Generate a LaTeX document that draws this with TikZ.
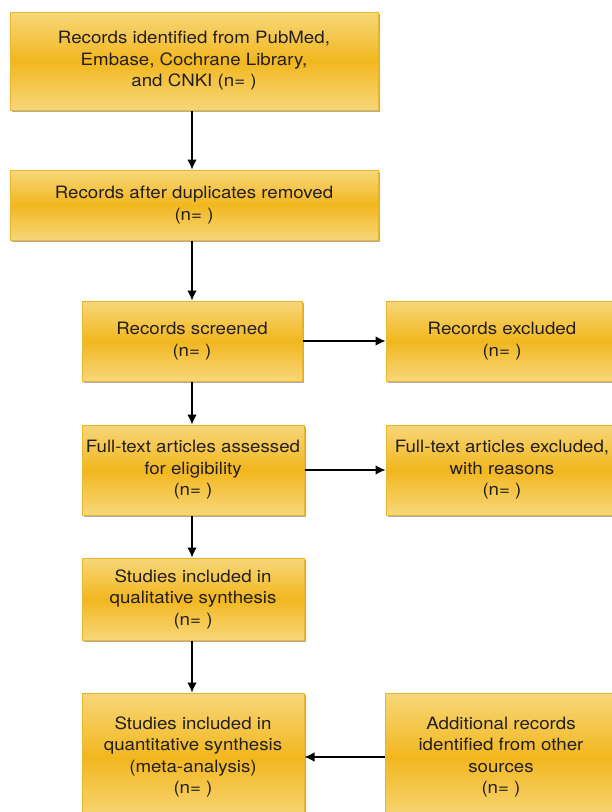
\documentclass[tikz,border=0pt]{standalone}
\usepackage{fontspec}
\setmainfont[FakeStretch=1.1]{TeX Gyre Heros}
\usetikzlibrary{arrows.meta,shadows}
\definecolor{boxlight}{HTML}{F7D77A}
\definecolor{boxgold}{HTML}{F2B71F}
\definecolor{boxline}{HTML}{EDB62A}
\definecolor{inktext}{HTML}{231F20}
\begin{document}
\begin{tikzpicture}[x=1pt,y=-1pt,
	box/.style={draw=boxline,line width=1pt,top color=boxlight,bottom color=boxlight,middle color=boxgold,
		drop shadow={shadow xshift=2pt,shadow yshift=-2pt,fill=black!40,opacity=0.8},
		align=center,inner sep=2pt,text=inktext,
		font=\fontsize{17}{21.5}\selectfont},
	link/.style={-{Latex[length=10pt,width=9.5pt]},line width=1.2pt,draw=black}]
		\useasboundingbox (0,0) rectangle (612,812);
		\node[box,minimum width=368pt,minimum height=98pt] (1) at (194,61) {Records identified from PubMed,\\Embase, Cochrane Library,\\and CNKI (n= )};
		\node[box,minimum width=368pt,minimum height=70pt] (2) at (194,205) {Records after duplicates removed\\(n= )};
		\node[box,minimum width=220pt,minimum height=80pt] (3) at (192,341) {Records screened\\(n= )};
		\node[box,minimum width=232pt,minimum height=80pt] (4) at (502,341) {Records excluded\\(n= )};
		\node[box,minimum width=222pt,minimum height=90pt] (5) at (193,470) {Full-text articles assessed\\for eligibility\\(n= )};
		\node[box,minimum width=232pt,minimum height=90pt] (6) at (502,470) {Full-text articles excluded,\\with reasons\\(n= )};
		\node[box,minimum width=222pt,minimum height=82pt] (7) at (193,599) {Studies included in\\qualitative synthesis\\(n= )};
		\node[box,minimum width=222pt,minimum height=128pt] (8) at (193,757) {Studies included in\\quantitative synthesis\\(meta-analysis)\\(n= )};
		\node[box,minimum width=232pt,minimum height=128pt] (9) at (501,757) {Additional records\\identified from other\\sources\\(n= )};
		\draw[link] (1.south -| 3) -- (2.north -| 3);
		\draw[link] (2.south -| 3) -- (3);
		\draw[link] (3) -- (5.north -| 3);
		\draw[link] (5.south -| 3) -- (7.north -| 3);
		\draw[link] (7.south -| 3) -- (8.north -| 3);
		\draw[link] (3) -- (4);
		\draw[link] (5) -- (6);
		\draw[link] (9) -- (8);
	\end{tikzpicture}
\end{document}
